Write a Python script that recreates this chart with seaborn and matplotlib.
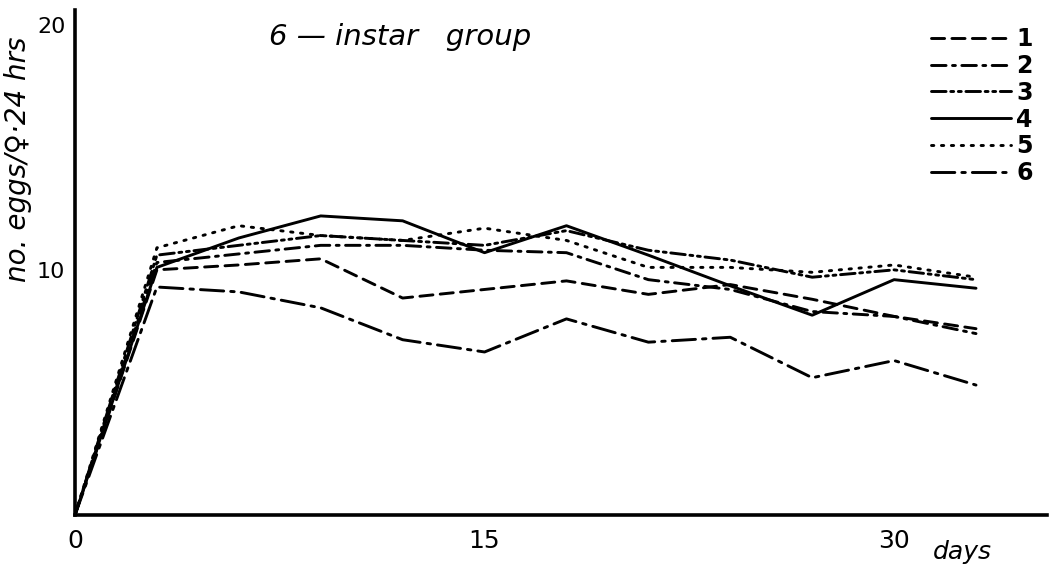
import matplotlib
matplotlib.use("Agg")
import matplotlib.pyplot as plt
import seaborn as sns
import pandas as pd

# Egg production of the 6-instar group, sampled every third day
days = [0, 3, 6, 9, 12, 15, 18, 21, 24, 27, 30, 33]
group_1 = [0, 10.0, 10.2, 10.45, 8.85, 9.2, 9.55, 9.0, 9.4, 8.8, 8.1, 7.6]
group_2 = [0, 10.3, 10.65, 11.0, 11.0, 10.8, 10.7, 9.6, 9.2, 8.3, 8.1, 7.4]
group_3 = [0, 10.6, 11.0, 11.4, 11.2, 11.0, 11.6, 10.8, 10.4, 9.7, 10.0, 9.6]
group_4 = [0, 10.1, 11.3, 12.2, 12.0, 10.7, 11.8, 10.6, 9.35, 8.15, 9.6, 9.25]
group_5 = [0, 10.9, 11.8, 11.4, 11.2, 11.7, 11.2, 10.1, 10.1, 9.9, 10.2, 9.7]
group_6 = [0, 9.3, 9.1, 8.45, 7.15, 6.65, 8.0, 7.05, 7.25, 5.6, 6.3, 5.3]
group_names = ["1", "2", "3", "4", "5", "6"]
x_tick_labels = {0: "0", 15: "15", 30: "30"}
y_ticks = [10, 20]

series = [group_1, group_2, group_3, group_4, group_5, group_6]
df = pd.DataFrame({
    "day": days * len(series),
    "eggs": [v for s in series for v in s],
    "group": [g for g, s in zip(group_names, series) for _ in s],
})

sns.set_style("white")
plt.rcParams["font.family"] = ["DejaVu Sans"]
plt.rcParams["text.color"] = "black"
plt.rcParams["axes.labelcolor"] = "black"
plt.rcParams["xtick.color"] = "black"
plt.rcParams["ytick.color"] = "black"

dash_styles = {
    "1": (4.5, 2.5),
    "2": (5, 2.2, 1, 2.2),
    "3": (5, 1.6, 1, 1.6, 1, 1.6),
    "4": "",
    "5": (0.8, 2.6),
    "6": (8, 2.4, 1.2, 2.4),
}

fig = plt.figure(figsize=(10.58, 5.74), dpi=100)
ax = fig.add_axes([75 / 1058, 59 / 574, 972 / 1058, 505 / 574])

sns.lineplot(
    data=df, x="day", y="eggs", style="group", dashes=dash_styles,
    color="black", linewidth=2.1, ax=ax, legend=True,
    dash_capstyle="round",
)

ax.set_xlim(0, 35.6)
ax.set_ylim(0, 20.6)

for side in ("top", "right"):
    ax.spines[side].set_visible(False)
for side in ("left", "bottom"):
    ax.spines[side].set_linewidth(2.6)
    ax.spines[side].set_color("black")

ax.set_xticks(list(range(0, 34, 3)))
ax.set_xticklabels([x_tick_labels.get(d, "") for d in range(0, 34, 3)])
ax.set_yticks(y_ticks)
ax.set_yticklabels([str(v) for v in y_ticks])
ax.tick_params(axis="x", direction="out", length=7, width=2.2, pad=3,
               labelsize=18, labelcolor="black")
ax.tick_params(axis="y", direction="out", length=6, width=2.0, pad=1,
               labelsize=16, labelcolor="black")
ax.set_xlabel("")
ax.set_ylabel("no. eggs/\u2640\u00b724 hrs", fontsize=20, style="italic",
              color="black")
ax.yaxis.set_label_coords(-0.044, 0.705)

ax.text(32.5, -0.05, "days", transform=ax.get_xaxis_transform(),
        fontsize=18, style="italic", ha="center", va="top", color="black")
ax.text(11.9, 19.5, "6 \u2014 instar   group", fontsize=21, style="italic",
        ha="center", va="center", color="black")

handles, labels = ax.get_legend_handles_labels()
leg = ax.legend(handles, labels, loc="upper right", bbox_to_anchor=(0.995, 0.985),
                frameon=False, fontsize=17, handlelength=3.4,
                handletextpad=0.2, labelspacing=0.12, borderaxespad=0.0)
for t in leg.get_texts():
    t.set_color("black")
    t.set_fontweight("bold")

fig.savefig("out.png", dpi=100, facecolor="white")
